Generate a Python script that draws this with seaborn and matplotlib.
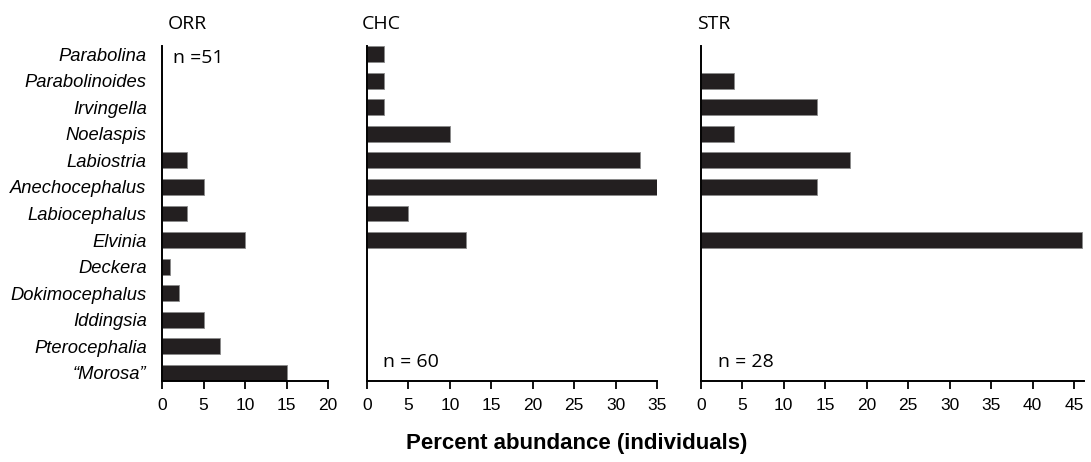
import matplotlib
matplotlib.use("Agg")
import matplotlib.pyplot as plt
import seaborn as sns
import pandas as pd

# ---- data ----
genera = ["Parabolina", "Parabolinoides", "Irvingella", "Noelaspis", "Labiostria",
          "Anechocephalus", "Labiocephalus", "Elvinia", "Deckera", "Dokimocephalus",
          "Iddingsia", "Pterocephalia", "\u201cMorosa\u201d"]
orr_values = [0, 0, 0, 0, 3, 5, 3, 10, 1, 2, 5, 7, 15]
chc_values = [2, 2, 2, 10, 33, 35, 5, 12, 0, 0, 0, 0, 0]
str_values = [0, 4, 14, 4, 18, 14, 0, 46, 0, 0, 0, 0, 0]
sites = ["ORR", "CHC", "STR"]
sample_sizes = ["n =51", "n = 60", "n = 28"]
x_ticks = [[0, 5, 10, 15, 20], [0, 5, 10, 15, 20, 25, 30, 35],
           [0, 5, 10, 15, 20, 25, 30, 35, 40, 45]]
x_limits = [20, 35, 46.2]
x_label = "Percent abundance (individuals)"

sns.set_style("white")
plt.rcParams["font.family"] = ["Liberation Sans", "DejaVu Sans"]
plt.rcParams["text.color"] = "black"
plt.rcParams["axes.labelcolor"] = "black"
plt.rcParams["xtick.color"] = "black"
plt.rcParams["ytick.color"] = "black"

df = pd.DataFrame({
    "genus": genera * 3,
    "site": [s for s in sites for _ in genera],
    "value": orr_values + chc_values + str_values,
})

W, H = 1091, 462
fig = plt.figure(figsize=(W / 100, H / 100), dpi=100)

bottom_px, top_px = 381, 46
ax_rects_px = [(162, 166), (367, 290), (700.7, 383.3)]
n_pos = [(173, 63), (383, 366.7), (718, 366.7)]
title_x = [168, 362, 697]

bar_color = "#231f20"
for i, site in enumerate(sites):
    x0, w = ax_rects_px[i]
    ax = fig.add_axes([x0 / W, (H - bottom_px) / H, w / W, (bottom_px - top_px) / H])
    sub = df[df["site"] == site]
    sns.barplot(data=sub, y="genus", x="value", order=genera, orient="h",
                color=bar_color, width=0.6, ax=ax, edgecolor="#8a8a8a", linewidth=0.6,
                saturation=1, errorbar=None)
    for p in ax.patches:
        p.set_facecolor(bar_color)
    ax.set_xlim(0, x_limits[i])
    ax.set_ylim(len(genera) - 1 + 0.305, -0.305)
    ax.set_xticks(x_ticks[i])
    ax.set_xticklabels([str(t) for t in x_ticks[i]], fontsize=12.5, color="black")
    ax.set_xlabel("")
    ax.set_ylabel("")
    for s in ["top", "right"]:
        ax.spines[s].set_visible(False)
    for s in ["left", "bottom"]:
        ax.spines[s].set_linewidth(1.4)
        ax.spines[s].set_color("black")
    ax.tick_params(axis="x", direction="out", length=6, width=1.3, pad=6,
                   bottom=True, colors="black")
    if i == 0:
        ax.tick_params(axis="y", length=0, pad=11)
        for lab in ax.get_yticklabels():
            lab.set_fontstyle("italic")
            lab.set_fontsize(13.2)
            lab.set_color("black")
    else:
        ax.tick_params(axis="y", length=0, labelleft=False)
    ax.grid(False)
    fig.text(title_x[i] / W, (H - 29) / H, site, fontsize=14, color="black",
             family=["Open Sans", "DejaVu Sans"], ha="left", va="baseline")
    nx, ny = n_pos[i]
    fig.text(nx / W, (H - ny) / H, sample_sizes[i], fontsize=14, color="black",
             family=["Open Sans", "DejaVu Sans"], ha="left", va="baseline")

fig.text(577 / W, (H - 449) / H, x_label, fontsize=16, fontweight="bold",
         color="black", ha="center", va="baseline")

fig.savefig("out.png", dpi=100)
